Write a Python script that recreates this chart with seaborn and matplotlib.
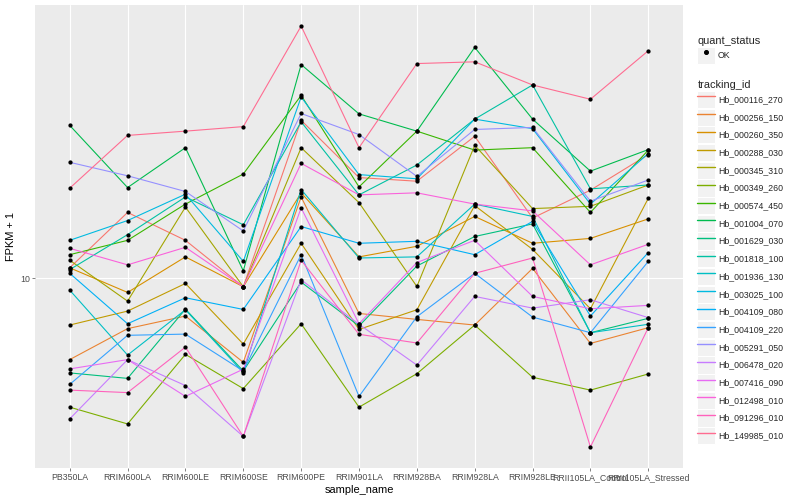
import numpy as np
import pandas as pd
import seaborn as sns
import matplotlib.pyplot as plt
from matplotlib.lines import Line2D
from matplotlib.patches import Rectangle
from matplotlib.ticker import NullLocator
from matplotlib.legend_handler import HandlerLine2D

samples = [
    "PB350LA", "RRIM600LA", "RRIM600LE", "RRIM600SE", "RRIM600PE", "RRIM901LA",
    "RRIM928BA", "RRIM928LA", "RRIM928LE", "RRII105LA_Control", "RRII105LA_Stressed",
]

tracking_ids = [
    "Hb_000116_270", "Hb_000256_150", "Hb_000260_350", "Hb_000288_030",
    "Hb_000345_310", "Hb_000349_260", "Hb_000574_450", "Hb_001004_070",
    "Hb_001629_030", "Hb_001818_100", "Hb_001936_130", "Hb_003025_100",
    "Hb_004109_080", "Hb_004109_220", "Hb_005291_050", "Hb_006478_020",
    "Hb_007416_090", "Hb_012498_010", "Hb_091296_010", "Hb_149985_010",
]

# FPKM + 1 per gene, one value per sample
hb_000116_270 = [10.85, 16.6, 13.4, 9.38, 33.7, 21.7, 21.1, 29.8, 15.9, 19.7, 25.9]
hb_000256_150 = [5.36, 6.80, 7.49, 5.25, 18.7, 7.64, 7.30, 6.99, 10.8, 6.07, 6.85]
hb_000260_350 = [10.85, 8.98, 11.8, 9.38, 19.3, 11.8, 12.8, 16.1, 13.1, 13.6, 15.8]
hb_000288_030 = [6.99, 7.78, 9.62, 6.04, 13.1, 6.76, 7.86, 17.5, 12.5, 7.92, 18.5]
hb_000345_310 = [11.5, 8.40, 17.3, 9.38, 27.3, 17.9, 9.40, 27.8, 17.1, 17.4, 20.5]
hb_000349_260 = [3.72, 3.27, 5.58, 4.29, 7.06, 3.72, 4.81, 6.99, 4.68, 4.24, 4.80]
hb_000574_450 = [12.0, 13.4, 17.7, 22.3, 40.8, 20.2, 31.0, 26.8, 27.3, 16.6, 26.8]
hb_001004_070 = [32.4, 20.1, 27.3, 10.6, 51.7, 35.4, 31.0, 59.0, 34.0, 22.8, 26.9]
hb_001629_030 = [4.84, 4.64, 7.90, 4.91, 9.72, 6.94, 11.0, 13.8, 15.2, 6.59, 7.36]
hb_001818_100 = [10.7, 14.0, 18.7, 15.1, 33.3, 19.0, 23.9, 34.0, 44.2, 19.9, 20.5]
hb_001936_130 = [9.14, 5.55, 7.86, 4.85, 19.8, 11.7, 11.8, 17.7, 16.1, 6.59, 7.03]
hb_003025_100 = [13.4, 15.6, 19.1, 11.4, 40.3, 22.2, 21.5, 34.0, 31.6, 17.7, 26.1]
hb_004109_080 = [10.4, 7.06, 8.62, 7.88, 14.9, 13.1, 13.3, 12.0, 15.5, 7.49, 12.2]
hb_004109_220 = [4.43, 6.46, 6.52, 4.91, 12.0, 4.04, 7.45, 10.4, 7.43, 6.59, 11.4]
hb_005291_050 = [24.4, 22.0, 19.5, 14.4, 35.5, 30.2, 21.9, 31.4, 31.9, 18.1, 21.3]
hb_006478_020 = [3.40, 5.36, 4.39, 2.97, 9.90, 7.03, 5.14, 8.71, 7.96, 8.49, 7.40]
hb_007416_090 = [4.99, 5.36, 4.04, 4.98, 17.2, 7.06, 11.3, 13.4, 8.71, 7.92, 8.13]
hb_012498_010 = [12.6, 11.1, 12.7, 9.38, 24.2, 19.0, 19.3, 17.7, 16.8, 11.1, 13.0]
hb_091296_010 = [4.24, 4.16, 5.90, 2.97, 11.5, 6.51, 6.09, 10.4, 11.7, 2.74, 6.85]
hb_149985_010 = [20.0, 30.0, 31.0, 32.1, 69.5, 27.3, 52.1, 52.8, 44.2, 39.6, 57.5]

series = [
    hb_000116_270, hb_000256_150, hb_000260_350, hb_000288_030, hb_000345_310,
    hb_000349_260, hb_000574_450, hb_001004_070, hb_001629_030, hb_001818_100,
    hb_001936_130, hb_003025_100, hb_004109_080, hb_004109_220, hb_005291_050,
    hb_006478_020, hb_007416_090, hb_012498_010, hb_091296_010, hb_149985_010,
]

# ggplot2 default hue palette for 20 levels
palette = [
    "#F8766D", "#EA8331", "#D89000", "#C09B00", "#A3A500", "#7CAE00", "#39B600",
    "#00BB4E", "#00BF7D", "#00C1A3", "#00BFC4", "#00BAE0", "#00B0F6", "#35A2FF",
    "#9590FF", "#C77CFF", "#E76BF3", "#FA62DB", "#FF62BC", "#FF6C91",
]

df = pd.DataFrame(
    [
        {"tracking_id": gid, "sample_name": s, "fpkm": v}
        for gid, vals in zip(tracking_ids, series)
        for s, v in zip(samples, vals)
    ]
)


class KeyHandler(HandlerLine2D):
    """legend key drawn on a grey box, like ggplot"""

    def create_artists(self, legend, orig_handle, xdescent, ydescent, width,
                       height, fontsize, trans):
        bg = Rectangle((-xdescent, -ydescent), width, height,
                       facecolor="#F2F2F2", edgecolor="white", linewidth=1,
                       transform=trans)
        arts = super().create_artists(legend, orig_handle, xdescent, ydescent,
                                      width, height, fontsize, trans)
        return [bg] + list(arts)


sns.set_theme(style="darkgrid", rc={
    "axes.facecolor": "#EBEBEB",
    "grid.color": "white",
    "grid.linewidth": 1.1,
    "figure.facecolor": "white",
})
plt.rcParams["font.family"] = ["Liberation Sans", "DejaVu Sans"]

fig, ax = plt.subplots(figsize=(800 / 72, 500 / 72), dpi=72)
fig.subplots_adjust(left=35 / 800, right=683 / 800, bottom=1 - 468 / 500, top=1 - 5 / 500)

sns.lineplot(data=df, x="sample_name", y="fpkm", hue="tracking_id",
             hue_order=tracking_ids, palette=palette, linewidth=1.1,
             estimator=None, sort=False, legend=False, ax=ax)
sns.scatterplot(data=df, x="sample_name", y="fpkm", color="black", s=18,
                linewidth=0, legend=False, ax=ax, zorder=3)

# log10 y with ggplot style 5% expansion
ax.set_yscale("log")
lo, hi = np.log10(df["fpkm"].min()), np.log10(df["fpkm"].max())
pad = 0.05 * (hi - lo)
ax.set_ylim(10 ** (lo - pad), 10 ** (hi + pad))
ax.set_yticks([10])
ax.set_yticklabels(["10"])
ax.yaxis.set_minor_locator(NullLocator())
ax.set_xlim(-0.6, len(samples) - 0.4)

for sp in ax.spines.values():
    sp.set_visible(False)
ax.tick_params(length=2.75, width=0.6, color="#333333", labelsize=8.8,
               labelcolor="#4D4D4D", pad=2.2, bottom=True, left=True)
ax.set_xlabel("sample_name", fontsize=11, color="black", labelpad=3)
ax.set_ylabel("FPKM + 1", fontsize=11, color="black", labelpad=4)

# legends (key boxes ~17 px high)
handler = KeyHandler()
leg_kw = dict(
    loc="upper left", frameon=False, fontsize=8.8, title_fontsize=11,
    alignment="left", borderpad=0, handlelength=1.95, handleheight=2.64,
    handletextpad=0.4, labelspacing=0.05, handler_map={Line2D: handler},
)
ok_handle = Line2D([], [], marker="o", color="black", linestyle="", markersize=4)
leg1 = fig.legend([ok_handle], ["OK"], title="quant_status",
                  bbox_to_anchor=(693 / 800, 1 - 32 / 500), **leg_kw)
line_handles = [Line2D([], [], color=c, linewidth=1.4) for c in palette]
leg2 = fig.legend(line_handles, tracking_ids, title="tracking_id",
                  bbox_to_anchor=(693 / 800, 1 - 76 / 500), **leg_kw)

fig.savefig("out.png", dpi=72)
